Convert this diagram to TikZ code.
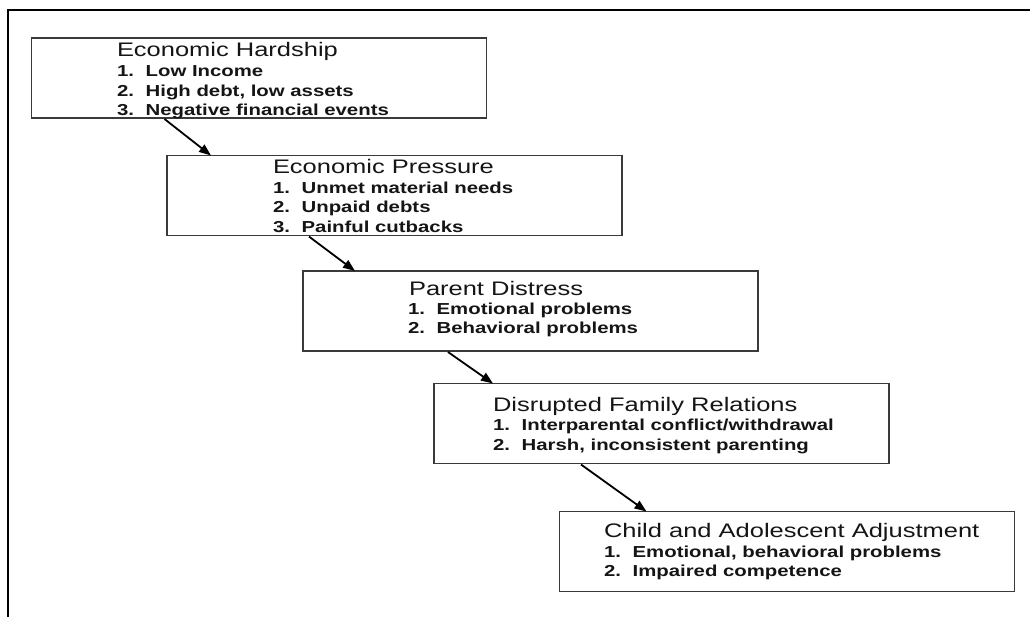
\documentclass[tikz,border=0pt]{standalone}
\usepackage{fontspec}
\setmainfont{Liberation Sans}
\usetikzlibrary{calc,arrows.meta}
\definecolor{ink}{HTML}{151515}
\definecolor{edge}{HTML}{3A3A3A}
\newcommand{\myhs}[1]{\scalebox{1.30}[1]{#1}}
\newcommand{\myis}[1]{\scalebox{1.28}[1]{#1}}
\newcommand{\mytitle}[1]{\myhs{\fontsize{19.6}{22}\selectfont #1}}
\newcommand{\myitem}[2]{\myis{\fontsize{15.9}{19.5}\selectfont\bfseries\makebox[22.4pt][l]{#1}#2}}
\begin{document}
\begin{tikzpicture}[x=1pt,y=-1pt,
  stagebox/.style={draw=edge, line width=1.5pt, rectangle, inner sep=0pt, outer sep=0pt,
    minimum width=455pt, minimum height=80pt},
  txt/.style={anchor=base west, inner sep=0pt, outer sep=0pt, text=ink},
  arr/.style={draw=black, line width=1.8pt, -{Triangle[length=12pt,width=9pt]}}]
\useasboundingbox (0,0) rectangle (1030,616);
\fill[white] (0,0) rectangle (1030,616);
% outer frame (partly cropped)
\draw[line width=2pt, black] (7.5,617) -- (7.5,10) -- (1031,10);

% boxes
\node[stagebox] (b1) at (259,78) {};
\node[stagebox] (b2) at (394.5,195.5) {};
\node[stagebox] (b3) at (530.5,311) {};
\node[stagebox] (b4) at (661.5,423.5) {};
\node[stagebox] (b5) at (787,551.5) {};

% box 1 text
\node[txt] (t1) at (117,56.5) {\mytitle{Economic Hardship}};
\node[txt] (t1a) at (117,76.5) {\myitem{1.}{Low Income}};
\node[txt] (t1b) at (117,96) {\myitem{2.}{High debt, low assets}};
\node[txt] (t1c) at (117,115.5) {\myitem{3.}{Negative financial events}};

% box 2 text
\node[txt] (t2) at (273,173.3) {\mytitle{Economic Pressure}};
\node[txt] (t2a) at (273,193) {\myitem{1.}{Unmet material needs}};
\node[txt] (t2b) at (273,212.5) {\myitem{2.}{Unpaid debts}};
\node[txt] (t2c) at (273,232) {\myitem{3.}{Painful cutbacks}};

% box 3 text
\node[txt] (t3) at (409,295) {\mytitle{Parent Distress}};
\node[txt] (t3a) at (408,314) {\myitem{1.}{Emotional problems}};
\node[txt] (t3b) at (408,333.5) {\myitem{2.}{Behavioral problems}};

% box 4 text
\node[txt] (t4) at (493,411.7) {\mytitle{Disrupted Family Relations}};
\node[txt] (t4a) at (493,430.7) {\myitem{1.}{Interparental conflict/withdrawal}};
\node[txt] (t4b) at (493,450) {\myitem{2.}{Harsh, inconsistent parenting}};

% box 5 text
\node[txt] (t5) at (604,537.3) {\mytitle{Child and Adolescent Adjustment}};
\node[txt] (t5a) at (604,557.3) {\myitem{1.}{Emotional, behavioral problems}};
\node[txt] (t5b) at (604,576.7) {\myitem{2.}{Impaired competence}};

% arrows
\draw[arr] ($(b1.south west)+(133,1)$) -- ($(b2.north west)+(44,0)$);
\draw[arr] ($(b2.south west)+(142,1)$) -- ($(b3.north west)+(52,0)$);
\draw[arr] ($(b3.south west)+(145,1)$) -- ($(b4.north west)+(59,0)$);
\draw[arr] ($(b4.south west)+(147,1)$) -- ($(b5.north west)+(87,0)$);
\end{tikzpicture}
\end{document}
